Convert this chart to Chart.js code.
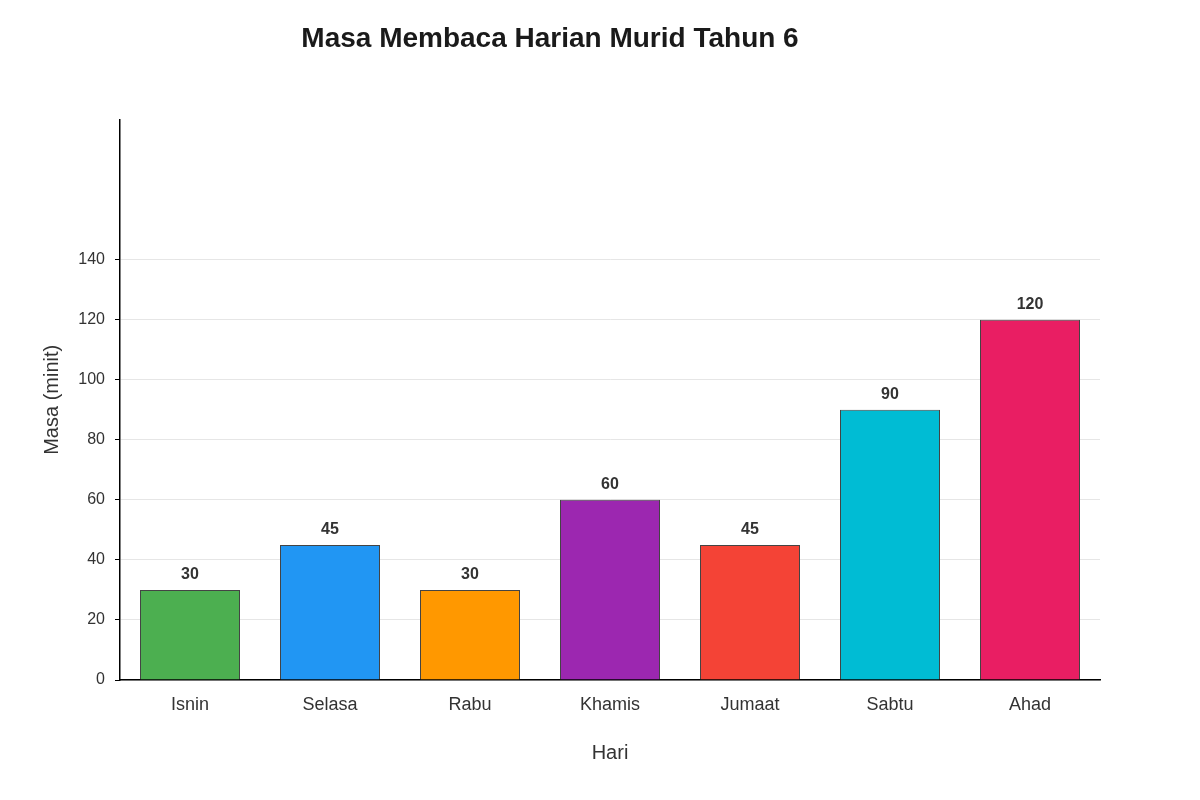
<!DOCTYPE html>
<html><head><meta charset="utf-8">
<script src="https://cdn.jsdelivr.net/npm/chart.js@4"></script>
<style>html,body{margin:0;background:#fff}#w{width:1200px;height:800px}</style>
</head><body><div id="w"><canvas id="c"></canvas></div>
<script>
const categories = ["Isnin","Selasa","Rabu","Khamis","Jumaat","Sabtu","Ahad"];
const values = [30,45,30,60,45,90,120];
const colors = ["#4CAF50","#2196F3","#FF9800","#9C27B0","#F44336","#00BCD4","#E91E63"];
const yTicks = [0,20,40,60,80,100,120,140];
const F = "'Liberation Sans', Arial, sans-serif";
Chart.defaults.font.family = F;
const labelPlugin = {id:'lbl', afterDatasetsDraw(ch){
  const ctx = ch.ctx; const meta = ch.getDatasetMeta(0);
  ctx.save(); ctx.font = "bold 16px "+F; ctx.fillStyle="#333"; ctx.textAlign="center"; ctx.textBaseline="bottom";
  meta.data.forEach((b,i)=>ctx.fillText(values[i], b.x, b.y-7));
  ctx.restore();
}};
new Chart(document.getElementById('c'), {
  type:'bar',
  data:{labels:categories, datasets:[{data:values, backgroundColor:colors, borderColor:"#444", borderWidth:1, categoryPercentage:1, barPercentage:100/140}]},
  options:{
    responsive:true, maintainAspectRatio:false, animation:false,
    layout:{padding:{left:0,right:100,top:0,bottom:0}},
    plugins:{legend:{display:false}, tooltip:{enabled:false},
      title:{display:true, text:"Masa Membaca Harian Murid Tahun 6", color:"#1a1a1a", font:{size:28,weight:'bold'}, padding:{top:22,bottom:64}}},
    scales:{
      x:{grid:{display:false, drawTicks:false}, border:{color:"#000", width:1.5},
        ticks:{color:"#333", font:{size:18}, padding:14},
        title:{display:true, text:"Hari", color:"#333", font:{size:20}, padding:{top:0,bottom:35}},
        afterFit(a){a.height=120;}},
      y:{min:0, max:186.67, border:{color:"#000", width:1.5},
        grid:{color:"#e6e6e6", tickLength:5, tickColor:"#000"},
        ticks:{stepSize:20, color:"#333", font:{size:16}, padding:10},
        afterBuildTicks(a){a.ticks = yTicks.map(v=>({value:v}));},
        title:{display:true, text:"Masa (minit)", color:"#333", font:{size:20}, padding:{top:40,bottom:0}},
        afterFit(a){a.width=120;}}
    }
  },
  plugins:[labelPlugin]
});
</script></body></html>
